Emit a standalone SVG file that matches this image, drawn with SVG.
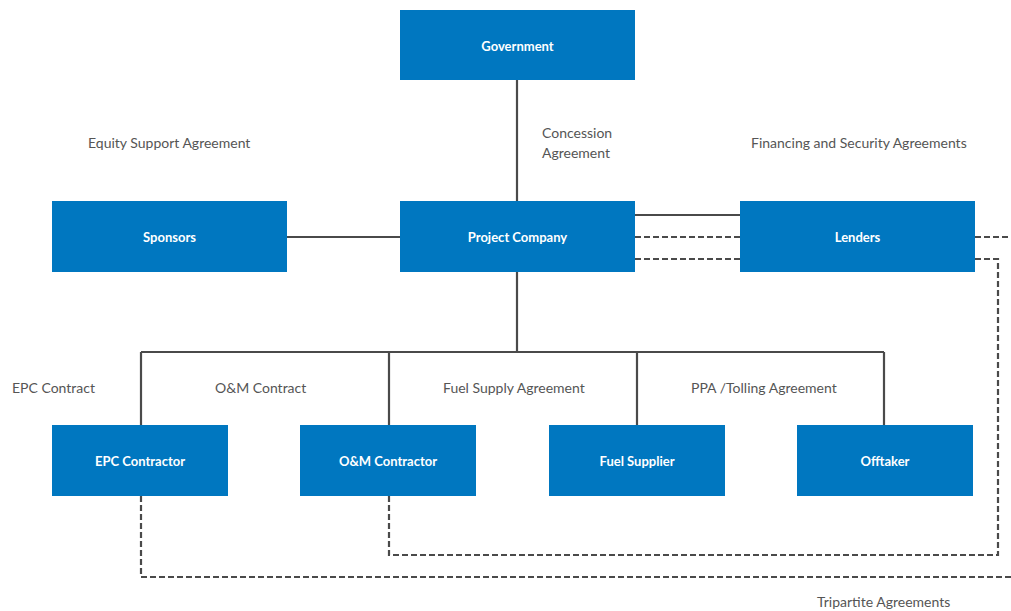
<svg xmlns="http://www.w3.org/2000/svg" width="1011" height="611" viewBox="0 0 1011 611">
<style>
.box{fill:#0077c0}
.bt{fill:#ffffff;font-family:Lato,"Liberation Sans",sans-serif;font-size:13px;font-weight:bold;text-anchor:middle}
.lbl{fill:#555555;font-family:Lato,"Liberation Sans",sans-serif;font-size:14px}
.s{stroke:#4a4a4a;stroke-width:2.2;fill:none}
.d{stroke:#4a4a4a;stroke-width:2.2;fill:none;stroke-dasharray:6 3}
</style>
<rect width="1011" height="611" fill="#ffffff"/>
<g id="connectors">
<path class="s" d="M517 80V201"/>
<path class="s" d="M287 237H400"/>
<path class="s" d="M635 215H740"/>
<path class="d" d="M635 237H740"/>
<path class="d" d="M635 259H740"/>
<path class="d" d="M975 237H1011"/>
<path class="d" d="M975 259H998V555H389V483"/>
<path class="d" d="M141 496V577H1011"/>
<path class="s" d="M517 272V352"/>
<path class="s" d="M141 352H884"/>
<path class="s" d="M141 352V425M389 352V425M637 352V425M884 352V425"/>
</g>
<g id="government"><rect class="box" x="400" y="10" width="235" height="70"/><text class="bt" x="517.5" y="51">Government</text></g>
<g id="project-company"><rect class="box" x="400" y="201" width="235" height="71"/><text class="bt" x="517.5" y="242">Project Company</text></g>
<g id="sponsors"><rect class="box" x="52" y="201" width="235" height="71"/><text class="bt" x="169.5" y="242">Sponsors</text></g>
<g id="lenders"><rect class="box" x="740" y="201" width="235" height="71"/><text class="bt" x="857.5" y="242">Lenders</text></g>
<g id="epc-contractor"><rect class="box" x="52" y="425" width="176" height="71"/><text class="bt" x="140" y="466">EPC Contractor</text></g>
<g id="om-contractor"><rect class="box" x="300" y="425" width="176" height="71"/><text class="bt" x="388" y="466">O&amp;M Contractor</text></g>
<g id="fuel-supplier"><rect class="box" x="549" y="425" width="176" height="71"/><text class="bt" x="637" y="466">Fuel Supplier</text></g>
<g id="offtaker"><rect class="box" x="797" y="425" width="176" height="71"/><text class="bt" x="885" y="466">Offtaker</text></g>
<g id="labels">
<text class="lbl" x="88" y="148">Equity Support Agreement</text>
<text class="lbl" x="542" y="138">Concession</text>
<text class="lbl" x="542" y="158">Agreement</text>
<text class="lbl" x="751" y="148">Financing and Security Agreements</text>
<text class="lbl" x="12" y="393">EPC Contract</text>
<text class="lbl" x="215" y="393">O&amp;M Contract</text>
<text class="lbl" x="443" y="393">Fuel Supply Agreement</text>
<text class="lbl" x="691" y="393">PPA /Tolling Agreement</text>
<text class="lbl" x="817" y="607">Tripartite Agreements</text>
</g>
</svg>
